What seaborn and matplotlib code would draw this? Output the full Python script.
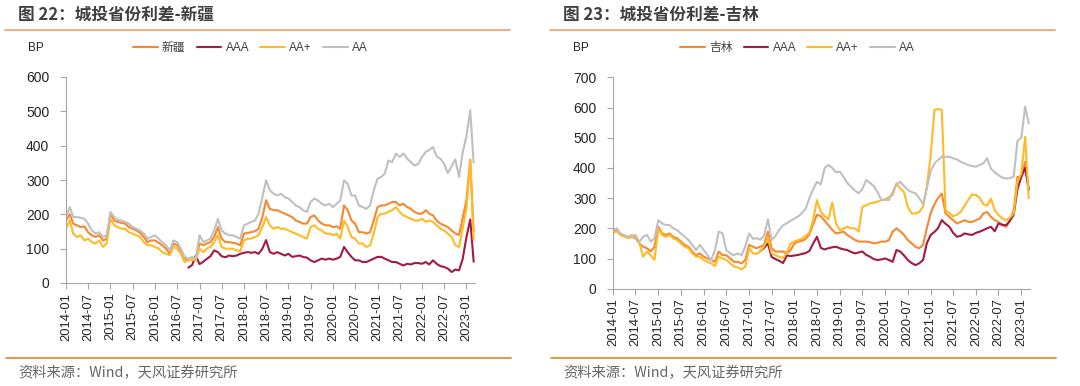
import matplotlib
matplotlib.use('Agg')
import matplotlib.pyplot as plt
import matplotlib.dates as mdates
from matplotlib.lines import Line2D
import pandas as pd
import seaborn as sns

sns.set_theme(style='white')
plt.rcParams['font.family'] = ['Liberation Sans', 'Noto Sans CJK SC']
plt.rcParams['axes.unicode_minus'] = False

# monthly spreads (BP), 2014-01 .. 2023-03
start = '2014-01-01'

# ---- 新疆 ----
xj_region = [182, 200, 173, 168, 163, 165, 148, 139, 134, 139, 124, 129,
             202, 182, 178, 175, 173, 163, 158, 153, 146, 134, 119, 124,
             124, 117, 110, 100, 85, 115, 110, 95, 71, 66, 68, 69,
             115, 110, 115, 119, 134, 163, 129, 119, 119, 117, 115, 110,
             144, 146, 148, 151, 158, 192, 241, 216, 212, 212, 207, 202,
             197, 192, 182, 178, 173, 173, 192, 197, 182, 173, 168, 168,
             163, 165, 158, 226, 212, 182, 173, 148, 148, 144, 148, 182,
             221, 226, 226, 231, 236, 236, 226, 231, 221, 216, 207, 202,
             202, 212, 202, 197, 182, 173, 168, 163, 153, 144, 140, 190,
             241, 359, 150]
xj_aa = [192, 221, 192, 192, 190, 187, 173, 153, 144, 148, 134, 139,
         207, 192, 184, 182, 178, 173, 163, 158, 153, 144, 129, 134,
         139, 129, 119, 110, 95, 124, 119, 100, 76, 71, 76, 71,
         139, 119, 124, 129, 153, 187, 153, 144, 139, 139, 134, 129,
         168, 173, 178, 182, 202, 250, 299, 270, 260, 255, 260, 250,
         246, 236, 226, 221, 212, 207, 236, 246, 240, 231, 226, 231,
         221, 231, 240, 299, 289, 255, 255, 226, 221, 216, 226, 270,
         304, 309, 318, 357, 352, 377, 367, 377, 362, 352, 342, 347,
         367, 382, 387, 396, 369, 362, 347, 320, 340, 360, 309, 380,
         428, 503, 350]
xj_aa_plus = [158, 182, 144, 134, 139, 124, 129, 119, 115, 124, 105, 115,
              187, 168, 163, 158, 158, 148, 144, 139, 134, 119, 110, 110,
              105, 100, 90, 85, 81, 105, 100, 85, 61, 66, 68, 66,
              100, 90, 100, 105, 119, 139, 105, 100, 100, 100, 95, 93,
              124, 129, 129, 134, 139, 163, 192, 168, 158, 163, 158, 158,
              153, 148, 144, 139, 134, 129, 163, 168, 158, 153, 144, 144,
              139, 144, 129, 182, 163, 134, 129, 115, 115, 105, 110, 144,
              192, 202, 202, 207, 212, 221, 207, 197, 192, 187, 182, 182,
              187, 178, 182, 178, 168, 158, 153, 144, 134, 110, 105, 160,
              216, 357, 125]
xj_aaa_start = '2016-10-01'
xj_aaa = [45, 52, 80,
          55, 62, 70, 78, 95, 90, 78, 75, 80, 78, 80, 85,
          88, 90, 88, 90, 85, 100, 125, 90, 85, 90, 85, 80,
          85, 76, 78, 80, 76, 74, 66, 61, 66, 71, 68, 71,
          68, 71, 76, 105, 90, 76, 66, 66, 61, 61, 66, 71,
          76, 76, 71, 66, 61, 61, 56, 51, 56, 54, 58, 58,
          56, 61, 54, 66, 56, 49, 47, 42, 32, 39, 37, 70,
          134, 185, 62]

# ---- 吉林 ----
jl_region = [190, 195, 180, 175, 170, 172, 168, 150, 139, 134, 123, 139,
             205, 183, 178, 183, 172, 167, 156, 145, 139, 123, 111, 117,
             106, 100, 95, 89, 123, 111, 111, 100, 89, 89, 84, 95,
             145, 139, 134, 139, 145, 189, 134, 123, 123, 123, 117, 128,
             150, 156, 158, 165, 180, 215, 245, 240, 225, 210, 195, 183,
             186, 189, 178, 170, 162, 156, 156, 156, 154, 150, 152, 156,
             156, 161, 189, 200, 190, 178, 161, 150, 139, 134, 145, 200,
             250, 280, 300, 315, 249, 238, 227, 216, 221, 227, 221, 221,
             227, 232, 249, 254, 238, 227, 221, 210, 205, 225, 260, 370,
             370, 420, 333]
jl_aa = [194, 200, 183, 178, 172, 178, 172, 156, 172, 178, 156, 167,
         227, 216, 211, 211, 200, 194, 183, 172, 161, 145, 128, 145,
         128, 111, 95, 128, 189, 183, 128, 117, 111, 117, 111, 140,
         183, 165, 167, 163, 175, 230, 161, 175, 195, 210, 217, 225,
         232, 240, 250, 265, 300, 330, 354, 345, 400, 410, 400, 385,
         388, 370, 350, 338, 325, 316, 330, 360, 350, 340, 320, 294,
         294, 294, 320, 345, 354, 340, 327, 320, 316, 300, 280, 330,
         390, 415, 426, 437, 437, 437, 432, 428, 420, 415, 409, 406,
         404, 410, 415, 432, 398, 385, 376, 368, 365, 366, 371, 490,
         500, 603, 548]
jl_aa_plus = [185, 190, 178, 172, 168, 170, 178, 150, 106, 123, 110, 95,
              200, 178, 172, 178, 167, 161, 150, 139, 134, 117, 106, 106,
              95, 89, 84, 75, 106, 100, 95, 84, 73, 71, 64, 73,
              134, 117, 115, 123, 140, 170, 117, 111, 105, 102, 120, 150,
              156, 161, 165, 175, 185, 230, 293, 255, 240, 230, 285, 216,
              194, 200, 205, 200, 200, 189, 271, 276, 282, 285, 288, 293,
              296, 304, 310, 349, 332, 320, 271, 249, 249, 254, 271, 338,
              440, 592, 595, 592, 260, 250, 240, 245, 255, 275, 295, 312,
              310, 300, 280, 275, 298, 260, 245, 232, 227, 235, 249, 354,
              381, 503, 300]
jl_aaa_start = '2017-04-01'
jl_aaa = [125, 135, 150, 105, 98, 92, 85, 110, 108,
          110, 112, 115, 118, 125, 150, 172, 135, 130, 134, 137, 139,
          134, 130, 128, 122, 117, 120, 123, 112, 106, 98, 95, 97,
          100, 95, 89, 128, 123, 110, 95, 85, 78, 84, 95, 150,
          178, 188, 200, 227, 215, 205, 185, 172, 175, 183, 180, 178,
          185, 189, 194, 200, 205, 190, 216, 212, 210, 225, 245, 330,
          370, 400, 327]

colors = ['#F7882F', '#A31A42', '#FFBA26', '#C0C0C0']


def monthly(first, values, name):
    dates = pd.date_range(first, periods=len(values), freq='MS')
    return pd.DataFrame({'date': dates, 'value': values, 'series': name})


def draw_panel(ax, region, region_vals, aaa_start, aaa_vals, aa_plus, aa, ymax):
    df = pd.concat([monthly(start, region_vals, region),
                    monthly(aaa_start, aaa_vals, 'AAA'),
                    monthly(start, aa_plus, 'AA+'),
                    monthly(start, aa, 'AA')], ignore_index=True)
    order = [region, 'AAA', 'AA+', 'AA']
    sns.lineplot(data=df, x='date', y='value', hue='series', hue_order=order,
                 palette=dict(zip(order, colors)), linewidth=1.5,
                 estimator=None, ax=ax)
    ax.set_ylim(0, ymax)
    ax.set_yticks(range(0, ymax + 1, 100))
    ax.set_xlim(pd.Timestamp('2014-01-01'), pd.Timestamp('2023-03-12'))
    ax.xaxis.set_major_locator(mdates.MonthLocator(bymonth=[1, 7]))
    ax.xaxis.set_major_formatter(mdates.DateFormatter('%Y-%m'))
    ax.set_xlabel('')
    ax.set_ylabel('')
    for s in ['top', 'right']:
        ax.spines[s].set_visible(False)
    for s in ['left', 'bottom']:
        ax.spines[s].set_color('#A6A6A6')
        ax.spines[s].set_linewidth(0.8)
    ax.tick_params(axis='x', bottom=True, length=4, width=0.8, color='#A6A6A6',
                   labelsize=9.4, labelcolor='#262626', pad=3, labelrotation=90)
    ax.tick_params(axis='y', left=True, length=4, width=0.8, color='#A6A6A6',
                   labelsize=10, labelcolor='#262626', pad=8)
    handles, labels = ax.get_legend_handles_labels()
    ax.get_legend().remove()
    return handles, labels


fig = plt.figure(figsize=(10.8, 3.86), dpi=100)
ax1 = fig.add_axes([66 / 1080, 1 - 283 / 386, 409 / 1080, 206 / 386])
ax2 = fig.add_axes([613 / 1080, 1 - 288.7 / 386, 417 / 1080, 211.4 / 386])

panels = [
    (ax1, '新疆', xj_region, xj_aaa_start, xj_aaa, xj_aa_plus, xj_aa, 600,
     '图 22：城投省份利差-新疆', 0),
    (ax2, '吉林', jl_region, jl_aaa_start, jl_aaa, jl_aa_plus, jl_aa, 700,
     '图 23：城投省份利差-吉林', 545),
]

for ax, region, rv, aaa_s, aaa_v, aap, aa, ymax, title, x0 in panels:
    handles, labels = draw_panel(ax, region, rv, aaa_s, aaa_v, aap, aa, ymax)

    # header / footer
    fig.text((x0 + 18) / 1080, 1 - 15 / 386, title, fontsize=12, fontweight='bold',
             color='#404040', va='center', ha='left', family=['Noto Sans CJK SC'])
    fig.add_artist(Line2D([(x0 + 5) / 1080, (x0 + 510) / 1080], [1 - 29.5 / 386] * 2,
                          color='#F5A86B', linewidth=1.3, transform=fig.transFigure))
    fig.add_artist(Line2D([(x0 + 6) / 1080, (x0 + 511) / 1080], [1 - 358 / 386] * 2,
                          color='#F08A36', linewidth=1.3, transform=fig.transFigure))
    fig.text((x0 + 18) / 1080, 1 - 373 / 386, '资料来源：Wind，天风证券研究所',
             fontsize=10.3, color='#666666', va='center', ha='left',
             family=['Noto Sans CJK SC'])
    fig.text((x0 + 28) / 1080, 1 - 48 / 386, 'BP', fontsize=8.5, color='#262626',
             va='center', ha='left')

    leg_x = 133 if x0 == 0 else 680
    ax.legend(handles, labels, loc='center left',
              bbox_to_anchor=(leg_x / 1080, 1 - 48 / 386), bbox_transform=fig.transFigure,
              ncol=4, frameon=False, fontsize=8.5, handlelength=2.1,
              handletextpad=0.35, columnspacing=0.95, borderpad=0, borderaxespad=0,
              labelcolor='#404040')

fig.savefig('out.png', dpi=100, facecolor='white')
